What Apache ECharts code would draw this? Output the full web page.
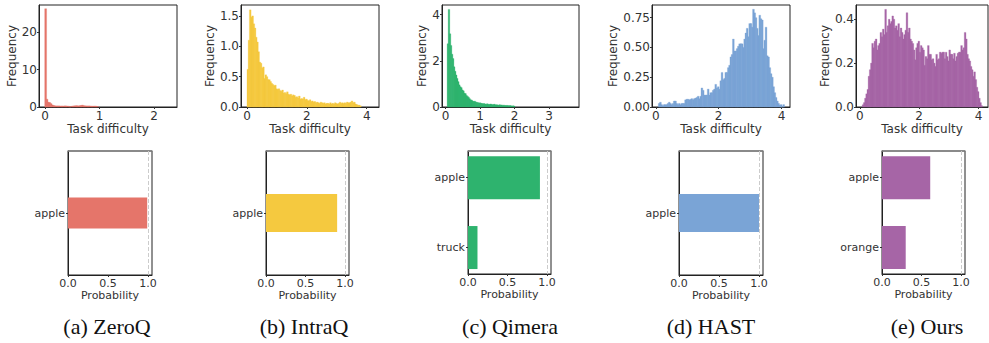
<!DOCTYPE html>
<html>
<head>
<meta charset="utf-8">
<title>Task difficulty</title>
<script src="https://cdn.jsdelivr.net/npm/echarts@6/dist/echarts.min.js"></script>
<style>
html,body{margin:0;padding:0;background:#fff;}
#main{width:989px;height:343px;}
</style>
</head>
<body>
<div id="main"></div>
<script>
// 子图标题
var captions = ['(a) ZeroQ', '(b) IntraQ', '(c) Qimera', '(d) HAST', '(e) Ours'];

// 直方图数据：起点、组距、频率
var zeroqStart = -0.005, zeroqBin = 0.025;
var zeroqFreq = [26.3, 2.1, 1.3, 1.2, 0.9, 0.55, 0.4, 0.3, 0.3, 0.28, 0.3, 0.25, 0.28, 0.25, 0.3, 0.28, 0.25, 0.2, 0.0, 0.2,
	0.25, 0.3, 0.35, 0.32, 0.3, 0.35, 0.4, 0.5, 0.35, 0.3, 0.3, 0.25, 0.3, 0.25, 0.2, 0.22, 0.25, 0.2, 0.15];

var intraqStart = 0, intraqBin = 0.04;
var intraqFreq = [0.62, 1.1, 1.6, 1.48, 1.5, 1.37, 1.3, 1.15, 1.07, 0.91,
	0.74, 0.72, 0.64, 0.66, 0.47, 0.53, 0.5, 0.45, 0.45, 0.42,
	0.39, 0.37, 0.35, 0.36, 0.3, 0.29, 0.3, 0.27, 0.26, 0.28,
	0.23, 0.24, 0.22, 0.25, 0.21, 0.2, 0.21, 0.18, 0.2, 0.19,
	0.16, 0.17, 0.15, 0.18, 0.13, 0.14, 0.13, 0.16, 0.12, 0.13,
	0.11, 0.1, 0.12, 0.09, 0.1, 0.08, 0.09, 0.07, 0.08, 0.07,
	0.06, 0.08, 0.07, 0.06, 0.07, 0.05, 0.06, 0.06, 0.05, 0.07,
	0.05, 0.06, 0.05, 0.07, 0.06, 0.05, 0.06, 0.08, 0.06, 0.07,
	0.06, 0.07, 0.06, 0.08, 0.07, 0.07, 0.08, 0.1, 0.07, 0.08,
	0.05, 0.04, 0.03, 0.03, 0.02];

var qimeraStart = 0.05, qimeraBin = 0.03;
var qimeraFreq = [2.74, 4.23, 3.17, 2.67, 2.29, 2.1, 1.74, 1.55, 1.39, 1.24,
	1.1, 0.96, 0.88, 0.84, 0.74, 0.7, 0.6, 0.58, 0.5, 0.46,
	0.42, 0.36, 0.31, 0.3, 0.26, 0.24, 0.25, 0.22, 0.2, 0.19,
	0.17, 0.18, 0.16, 0.15, 0.14, 0.15, 0.13, 0.12, 0.14, 0.12,
	0.11, 0.13, 0.12, 0.1, 0.11, 0.12, 0.09, 0.1, 0.09, 0.08,
	0.1, 0.08, 0.09, 0.07, 0.08, 0.07, 0.06, 0.07, 0.06, 0.05,
	0.06, 0.05, 0.04, 0.05, 0.04];

var hastStart = 0.08, hastBin = 0.04;
var hastFreq = [0.03, 0.04, 0.02, 0.01, 0.02, 0.02, 0.02, 0.03, 0.04, 0.03,
	0.02, 0.03, 0.05, 0.05, 0.03, 0.02, 0.03, 0.02, 0.03, 0.03,
	0.03, 0.06, 0.065, 0.065, 0.06, 0.065, 0.07, 0.06, 0.07, 0.075,
	0.08, 0.09, 0.07, 0.09, 0.16, 0.14, 0.1, 0.1, 0.1, 0.15,
	0.1, 0.12, 0.12, 0.14, 0.15, 0.19, 0.16, 0.17, 0.15, 0.22,
	0.29, 0.23, 0.24, 0.29, 0.29, 0.33, 0.35, 0.42, 0.44, 0.57,
	0.47, 0.47, 0.49, 0.51, 0.53, 0.53, 0.53, 0.5, 0.57, 0.62,
	0.66, 0.59, 0.7, 0.7, 0.67, 0.82, 0.79, 0.75, 0.66, 0.6,
	0.77, 0.74, 0.73, 0.49, 0.56, 0.67, 0.43, 0.42, 0.33, 0.28,
	0.25, 0.17, 0.12, 0.08, 0.05, 0.03, 0.015, 0.02, 0, 0.02];

var oursStart = 0.08, oursBin = 0.04;
var oursFreq = [0.01, 0.02, 0.04, 0.06, 0.08, 0.14, 0.17, 0.2, 0.29, 0.27,
	0.3, 0.31, 0.26, 0.28, 0.29, 0.34, 0.32, 0.355, 0.33, 0.445,
	0.34, 0.37, 0.4, 0.38, 0.39, 0.415, 0.4, 0.36, 0.37, 0.35,
	0.38, 0.32, 0.36, 0.34, 0.31, 0.33, 0.35, 0.43, 0.34, 0.36,
	0.31, 0.3, 0.29, 0.26, 0.215, 0.27, 0.29, 0.3, 0.25, 0.28,
	0.27, 0.26, 0.19, 0.23, 0.22, 0.28, 0.24, 0.24, 0.215, 0.22,
	0.2, 0.185, 0.24, 0.215, 0.22, 0.25, 0.245, 0.25, 0.25, 0.22,
	0.25, 0.23, 0.21, 0.26, 0.24, 0.24, 0.22, 0.245, 0.21, 0.23,
	0.245, 0.25, 0.25, 0.28, 0.26, 0.27, 0.34, 0.31, 0.24, 0.22,
	0.21, 0.185, 0.17, 0.14, 0.16, 0.125, 0.09, 0.07, 0.04, 0.02, 0.006];

// 刻度
var zeroqXTicks = [0, 1, 2], zeroqYTicks = [0, 10, 20];
var intraqXTicks = [0, 2, 4], intraqYTicks = [0, 0.5, 1.0, 1.5];
var qimeraXTicks = [0, 1, 2, 3], qimeraYTicks = [0, 2, 4];
var hastXTicks = [0, 2, 4], hastYTicks = [0, 0.25, 0.5, 0.75];
var oursXTicks = [0, 2, 4], oursYTicks = [0, 0.2, 0.4];
var probTicks = [0, 0.5, 1.0];

// 概率条形图
var zeroqClasses = ['apple'], zeroqProb = [0.99];
var intraqClasses = ['apple'], intraqProb = [0.9];
var qimeraClasses = ['apple', 'truck'], qimeraProb = [0.91, 0.12];
var hastClasses = ['apple'], hastProb = [1.0];
var oursClasses = ['apple', 'orange'], oursProb = [0.61, 0.3];

var panels = [
	{start: zeroqStart, bin: zeroqBin, freq: zeroqFreq, xt: zeroqXTicks, yt: zeroqYTicks, cls: zeroqClasses, prob: zeroqProb},
	{start: intraqStart, bin: intraqBin, freq: intraqFreq, xt: intraqXTicks, yt: intraqYTicks, cls: intraqClasses, prob: intraqProb},
	{start: qimeraStart, bin: qimeraBin, freq: qimeraFreq, xt: qimeraXTicks, yt: qimeraYTicks, cls: qimeraClasses, prob: qimeraProb},
	{start: hastStart, bin: hastBin, freq: hastFreq, xt: hastXTicks, yt: hastYTicks, cls: hastClasses, prob: hastProb},
	{start: oursStart, bin: oursBin, freq: oursFreq, xt: oursXTicks, yt: oursYTicks, cls: oursClasses, prob: oursProb}
];

// 布局与样式
var colors = ['#e5756a', '#f5c93f', '#2eb36e', '#7aa4d6', '#a665a6'];
var histGrids = [[39, 5, 138, 102], [241, 5, 138, 102], [442, 5, 137, 102], [652, 5, 138, 102], [856, 5, 132, 102]];
var histXRange = [[-0.11, 2.42], [-0.2, 4.41], [-0.1, 3.87], [-0.12, 4.27], [-0.13, 4.32]];
var histYMax = [27.3, 1.68, 4.42, 0.856, 0.465];
var histYDec = [0, 1, 0, 2, 1];
var histNameGap = [20, 23, 13, 33, 23];
var barGrids = [[68, 151, 84, 124], [266, 151, 83, 124], [468, 151, 83, 123], [679, 151, 84, 124], [882, 151, 83, 123]];
var barYRange = [[-0.5, 0.5], [-0.5, 0.5], [-0.383, 1.379], [-0.5, 0.5], [-0.383, 1.379]];
var barWidths = [31, 38, 43, 38, 43];
var captionX = [107, 304, 510, 711, 927];

var font = 'DejaVu Sans';
var myChart = echarts.init(document.getElementById('main'), null, {renderer: 'svg'});

var grid = [], xAxis = [], yAxis = [], series = [], graphic = [];

function fixed(d) {
	return function(v) { return Number(v).toFixed(d); };
}

panels.forEach(function(p, i) {
	var g = histGrids[i];
	grid.push({left: g[0], top: g[1], width: g[2], height: g[3], show: true, borderColor: '#222', borderWidth: 1});
	xAxis.push({
		gridIndex: i, type: 'value', min: histXRange[i][0], max: histXRange[i][1],
		name: 'Task difficulty', nameLocation: 'middle', nameGap: 16,
		nameTextStyle: {fontFamily: font, fontSize: 12, color: '#333'},
		axisLine: {onZero: false, lineStyle: {color: '#222', width: 1}},
		axisTick: {show: true, length: 2, customValues: p.xt, lineStyle: {color: '#333'}},
		axisLabel: {customValues: p.xt, fontFamily: font, fontSize: 12, color: '#333', margin: 3},
		splitLine: {show: false}
	});
	yAxis.push({
		gridIndex: i, type: 'value', min: 0, max: histYMax[i],
		name: 'Frequency', nameLocation: 'middle', nameGap: histNameGap[i],
		nameTextStyle: {fontFamily: font, fontSize: 12, color: '#333'},
		axisLine: {show: true, onZero: false, lineStyle: {color: '#222', width: 1}},
		axisTick: {show: true, length: 2, customValues: p.yt, lineStyle: {color: '#333'}},
		axisLabel: {customValues: p.yt, fontFamily: font, fontSize: 12, color: '#333', margin: 2, formatter: fixed(histYDec[i])},
		splitLine: {show: false}
	});
	var data = p.freq.map(function(v, k) {
		return [p.start + k * p.bin, p.start + (k + 1) * p.bin, v];
	});
	series.push({
		type: 'custom', xAxisIndex: i, yAxisIndex: i, data: data,
		encode: {x: [0, 1], y: 2},
		renderItem: (function(color) {
			return function(params, api) {
				var p0 = api.coord([api.value(0), api.value(2)]);
				var p1 = api.coord([api.value(1), 0]);
				return {
					type: 'rect',
					shape: {x: p0[0], y: p0[1], width: p1[0] - p0[0] + 0.5, height: p1[1] - p0[1]},
					style: {fill: color, stroke: color, lineWidth: 0.3}
				};
			};
		})(colors[i])
	});
});

panels.forEach(function(p, i) {
	var g = barGrids[i];
	var gi = 5 + i;
	grid.push({left: g[0], top: g[1], width: g[2], height: g[3], show: true, borderColor: '#222', borderWidth: 1});
	xAxis.push({
		gridIndex: gi, type: 'value', min: 0, max: 1.05,
		name: 'Probability', nameLocation: 'middle', nameGap: 15,
		nameTextStyle: {fontFamily: font, fontSize: 11, color: '#333'},
		axisLine: {onZero: false, lineStyle: {color: '#222', width: 1}},
		axisTick: {show: true, length: 2, customValues: probTicks, lineStyle: {color: '#333'}},
		axisLabel: {customValues: probTicks, fontFamily: font, fontSize: 11, color: '#333', margin: 3, formatter: fixed(1)},
		splitLine: {show: false}
	});
	// 类别轴：用数值轴定位条形，标签取类别名
	var ticks = p.cls.map(function(c, k) { return k; });
	yAxis.push({
		gridIndex: gi, type: 'value', inverse: true, min: barYRange[i][0], max: barYRange[i][1],
		axisLine: {show: true, onZero: false, lineStyle: {color: '#222', width: 1}},
		axisTick: {show: true, length: 2, customValues: ticks, lineStyle: {color: '#333'}},
		axisLabel: {customValues: ticks, fontFamily: font, fontSize: 11, color: '#333', margin: 3,
			formatter: (function(cls) { return function(v) { return cls[Math.round(v)]; }; })(p.cls)},
		splitLine: {show: false}
	});
	var data = p.prob.map(function(v, k) { return [v, k]; });
	series.push({
		type: 'custom', xAxisIndex: gi, yAxisIndex: gi, data: data,
		encode: {x: 0, y: 1},
		renderItem: (function(color, bw) {
			return function(params, api) {
				var p0 = api.coord([0, api.value(1)]);
				var p1 = api.coord([api.value(0), api.value(1)]);
				return {
					type: 'rect',
					shape: {x: p0[0], y: p0[1] - bw / 2, width: p1[0] - p0[0], height: bw},
					style: {fill: color}
				};
			};
		})(colors[i], barWidths[i]),
		// 1.0 处的虚线参考线
		markLine: {
			silent: true, symbol: 'none', label: {show: false},
			lineStyle: {color: '#cccccc', type: 'dashed', width: 1},
			data: [[{coord: [1, barYRange[i][0]]}, {coord: [1, barYRange[i][1]]}]]
		}
	});
});

// 条形图上边框（灰色）
barGrids.forEach(function(g, i) {
	xAxis.push({
		gridIndex: 5 + i, type: 'value', position: 'top', min: 0, max: 1.05,
		axisLine: {show: true, onZero: false, lineStyle: {color: '#888', width: 1.5}},
		axisTick: {show: false}, axisLabel: {show: false}, splitLine: {show: false}
	});
});

captions.forEach(function(t, i) {
	graphic.push({
		type: 'text', x: captionX[i], y: 326,
		style: {text: t, align: 'center', verticalAlign: 'middle', fontFamily: 'Liberation Serif', fontSize: 22, fill: '#111'}
	});
});

var option = {
	animation: false,
	backgroundColor: '#fff',
	grid: grid,
	xAxis: xAxis,
	yAxis: yAxis,
	series: series,
	graphic: graphic
};
myChart.setOption(option);
</script>
</body>
</html>
